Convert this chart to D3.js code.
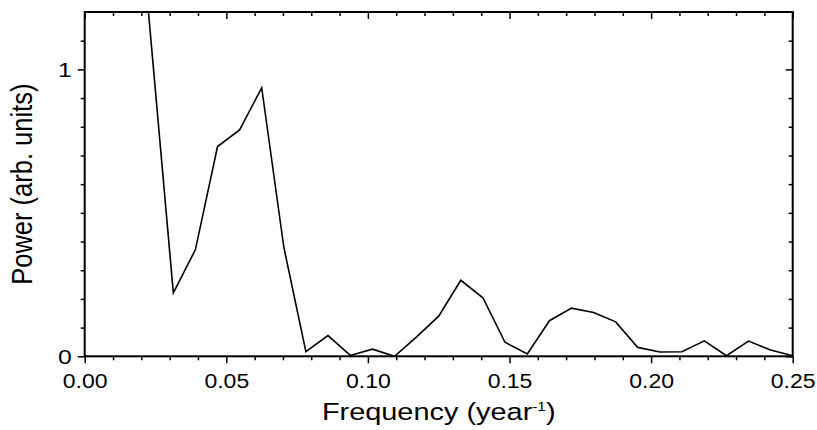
<!DOCTYPE html>
<html>
<head>
<meta charset="utf-8">
<script src="https://cdn.jsdelivr.net/npm/d3@7"></script>
<style>
  body { margin: 0; background: #fff; }
  text { font-family: "Liberation Sans", Arial, sans-serif; fill: #000; }
</style>
</head>
<body>
<div id="chart-area"></div>
<script>
// frequency (1/year) and power
var freq = [0.0156, 0.0313, 0.0391, 0.0469, 0.0547, 0.0625, 0.0703, 0.0781, 0.0859, 0.0938,
            0.1016, 0.1094, 0.1172, 0.125, 0.1328, 0.1406, 0.1484, 0.1563, 0.1641, 0.1719,
            0.1797, 0.1875, 0.1953, 0.2031, 0.2109, 0.2188, 0.2266, 0.2344, 0.2422, 0.25];
var power = [1.97, 0.221, 0.372, 0.731, 0.789, 0.936, 0.381, 0.016, 0.072, 0.003,
             0.025, 0.0, 0.068, 0.140, 0.265, 0.204, 0.049, 0.008, 0.124, 0.168,
             0.153, 0.120, 0.031, 0.015, 0.016, 0.054, 0.002, 0.053, 0.022, 0.002];

var xMajor = [0, 0.05, 0.10, 0.15, 0.20, 0.25];
var xMinor = [0.01, 0.02, 0.03, 0.04, 0.06, 0.07, 0.08, 0.09, 0.11, 0.12, 0.13, 0.14,
              0.16, 0.17, 0.18, 0.19, 0.21, 0.22, 0.23, 0.24];
var yMajor = [0, 1];
var yMinor = [0.1, 0.2, 0.3, 0.4, 0.5, 0.6, 0.7, 0.8, 0.9, 1.1];

var margin = { top: 12, right: 24.3, bottom: 73.7, left: 84.7 };
var width = 817 - margin.left - margin.right;
var height = 430 - margin.top - margin.bottom;
var stretch = 1.18; // the source picture is wider than tall

var svg = d3.select("#chart-area")
    .append("svg")
    .attr("width", 817)
    .attr("height", 430);

var g = svg.append("g")
    .attr("transform", "translate(" + margin.left + "," + margin.top + ")");

var x = d3.scaleLinear().domain([0, 0.25]).range([0, width]);
var y = d3.scaleLinear().domain([0, 1.2]).range([height, 0]);

svg.append("clipPath").attr("id", "clip")
    .append("rect").attr("width", width).attr("height", height);

// bottom axis
var bottomAxis = g.append("g").attr("transform", "translate(0," + height + ")");
bottomAxis.call(d3.axisBottom(x).tickValues(xMajor).tickSize(7).tickPadding(11)
    .tickFormat(d3.format(".2f")));
bottomAxis.append("g").call(d3.axisBottom(x).tickValues(xMinor).tickSize(4).tickFormat(""));

// top axis (inward ticks)
var topAxis = g.append("g");
topAxis.call(d3.axisBottom(x).tickValues(xMajor).tickSize(7).tickFormat(""));
topAxis.append("g").call(d3.axisBottom(x).tickValues(xMinor).tickSize(4).tickFormat(""));

// left axis
var leftAxis = g.append("g");
leftAxis.call(d3.axisLeft(y).tickValues(yMajor).tickSize(7).tickFormat(d3.format("d")));
leftAxis.append("g").call(d3.axisLeft(y).tickValues(yMinor).tickSize(4).tickFormat(""));

// right axis (inward ticks)
var rightAxis = g.append("g").attr("transform", "translate(" + width + ",0)");
rightAxis.call(d3.axisLeft(y).tickValues(yMajor).tickSize(7).tickFormat(""));
rightAxis.append("g").call(d3.axisLeft(y).tickValues(yMinor).tickSize(4).tickFormat(""));

g.selectAll(".domain").remove();
g.selectAll(".tick line").attr("stroke", "#000").attr("stroke-width", 1.5);

bottomAxis.selectAll(".tick text")
    .attr("font-size", 19.5)
    .attr("transform", "scale(" + stretch + ",1)");

leftAxis.selectAll(".tick text")
    .attr("font-size", 21)
    .attr("x", 0)
    .attr("dy", "0.36em")
    .attr("transform", "translate(-13,0) scale(" + stretch + ",1)");

// frame
g.append("rect")
    .attr("width", width)
    .attr("height", height)
    .attr("fill", "none")
    .attr("stroke", "#000")
    .attr("stroke-width", 2);

var line = d3.line()
    .x(function (d, i) { return x(freq[i]); })
    .y(function (d) { return y(d); });

g.append("path")
    .datum(power)
    .attr("clip-path", "url(#clip)")
    .attr("fill", "none")
    .attr("stroke", "#000")
    .attr("stroke-width", 1.6)
    .attr("d", line);

// axis titles
var xTitle = svg.append("text")
    .attr("transform", "translate(" + (margin.left + width / 2) + ",420) scale(" + stretch + ",1)")
    .attr("text-anchor", "middle")
    .attr("font-size", 24.5);
xTitle.append("tspan").text("Frequency (year");
xTitle.append("tspan").attr("font-size", 13).attr("dy", -9).text("-1");
xTitle.append("tspan").attr("dy", 9).text(")");

svg.append("text")
    .attr("transform", "translate(32," + (margin.top + height / 2) + ") scale(" + stretch + ",1) rotate(-90)")
    .attr("text-anchor", "middle")
    .attr("font-size", 25.5)
    .text("Power (arb. units)");
</script>
</body>
</html>
